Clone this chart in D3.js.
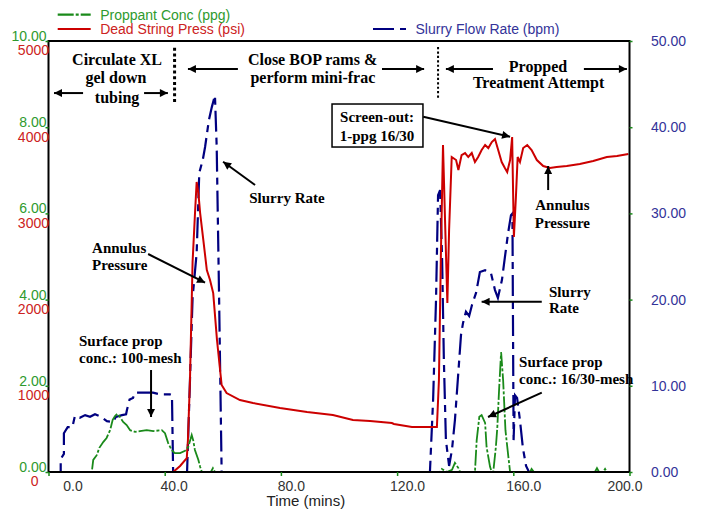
<!DOCTYPE html>
<html>
<head>
<meta charset="utf-8">
<script src="https://cdn.jsdelivr.net/npm/d3@7"></script>
<style>
  body { margin: 0; background: #fff; }
  svg { font-family: "Liberation Sans", Arial, sans-serif; }
  .note { font-family: "Liberation Serif", "Times New Roman", serif; font-weight: bold; fill: #000; }
</style>
</head>
<body>
<div id="chart"></div>
<script>
// tick values
var timeTicks = [0, 40, 80, 120, 160, 200];
var propTicks = [0, 2, 4, 6, 8, 10];
var pressTicks = [0, 1000, 2000, 3000, 4000, 5000];
var rateTicks = [0, 10, 20, 30, 40, 50];

// [time (mins), slurry flow rate (bpm)]
var slurryRate = [
  [0, 0], [4.2, 0], [4.2, 1.5], [5.3, 2.1], [5.3, 4.5], [6.6, 5.2], [8.2, 5.2], [9.1, 6.5],
  [10.8, 6.3], [12.6, 6.6], [14.3, 6.4], [16.0, 6.7], [18.1, 6.4], [20.1, 5.9], [22.2, 5.8],
  [23.2, 6.4], [25.3, 6.6], [26.7, 6.7], [27.0, 7.2], [27.9, 8.4], [29.1, 8.6], [29.8, 9.2],
  [33.6, 9.2], [36.0, 9.2], [38.4, 9.0], [41.8, 9.0], [42.5, 8.9], [42.9, 0], [47.7, 0],
  [49.6, 20.2], [51.0, 25.4], [51.9, 34.7], [53.1, 36.2], [53.9, 37.7], [55.2, 40.8],
  [56.2, 42.3], [57.3, 43.7], [57.9, 37.7], [58.7, 20.8], [59.6, 0], [131.3, 0],
  [132.4, 8.4], [133.4, 20.0], [134.1, 32.1], [134.8, 32.7], [135.5, 24.6], [136.1, 13.0],
  [136.8, 3.7], [137.9, 0.7], [138.9, 2.6], [139.9, 6.0], [140.9, 10.7], [142.0, 15.9],
  [142.7, 17.3], [143.7, 18.6], [144.8, 18.1], [145.8, 19.4], [147.2, 20.8], [148.5, 23.2],
  [150.3, 23.4], [152.3, 23.1], [153.7, 21.1], [154.7, 20.2], [156.1, 22.3], [157.1, 24.9],
  [158.2, 27.7], [159.2, 29.8], [159.7, 30.0], [160.1, 3.7], [160.6, 8.9], [161.3, 8.6],
  [162.3, 6.0], [163.3, 2.8], [164.4, 0.7], [165.4, 0], [200, 0]
];

// [time (mins), dead string pressure (psi)]
var deadPress = [
  [0, 0], [42.9, 0], [45.3, 70], [47.6, 162], [48.0, 371], [48.7, 1067], [49.6, 2436],
  [50.4, 2981], [51.0, 3364], [51.6, 3236], [52.2, 3004], [53.3, 2691], [54.5, 2343],
  [55.6, 2227], [56.7, 2076], [58.0, 1531], [59.6, 1009], [61.3, 916], [65.9, 835],
  [70.4, 800], [79.7, 742], [89.0, 696], [97.9, 661], [104.8, 603], [110.7, 592],
  [118.2, 568], [118.9, 557], [125.1, 522], [133.7, 522], [134.4, 1067], [135.1, 2575],
  [135.8, 3793], [136.5, 2923], [137.3, 1960], [137.9, 2807], [138.8, 3654], [139.3, 3642],
  [140.3, 3619], [141.1, 3503], [142.2, 3677], [143.4, 3700], [144.5, 3654], [145.7, 3700],
  [146.8, 3596], [147.9, 3654], [149.1, 3735], [150.3, 3793], [151.4, 3758], [152.6, 3828],
  [153.7, 3863], [154.8, 3735], [156.0, 3596], [157.1, 3526], [157.9, 3480], [158.9, 3619],
  [159.6, 3886], [160.2, 2726], [160.9, 3190], [161.5, 3654], [162.3, 3596], [163.4, 3758],
  [164.8, 3793], [166.3, 3735], [168.1, 3619], [170.3, 3550], [172.6, 3526], [174.9, 3538],
  [178.4, 3550], [182.9, 3573], [187.5, 3608], [192.2, 3654], [195.7, 3666], [199.6, 3689]
];

// [time (mins), proppant conc (ppg)]
var propConc = [
  [0, 0], [14.9, 0], [15.4, 0.28], [16.6, 0.39], [17.5, 0.56], [18.9, 0.70], [20.0, 0.79],
  [21.2, 0.97], [22.1, 1.21], [22.9, 1.30], [23.7, 1.35], [24.6, 1.28], [25.7, 1.16],
  [26.9, 1.09], [28.1, 0.97], [29.8, 0.93], [31.5, 0.95], [33.8, 0.97], [36.1, 0.95],
  [39.0, 0.97], [40.1, 0.90], [41.2, 0.67], [42.4, 0.51], [43.5, 0.44], [45.3, 0.44],
  [47.0, 0.49], [48.1, 0.58], [49.3, 0.86], [49.8, 0.74], [50.4, 0.51], [51.6, 0.28],
  [52.2, 0.12], [52.8, 0], [55.9, 0], [56.6, 0.09], [57.3, 0], [134.8, 0], [135.4, 0.07],
  [137.1, 0], [138.9, 0.05], [139.9, 0.21], [141.1, 0.09], [141.7, 0], [146.8, 0],
  [147.4, 0.74], [148.3, 1.28], [149.1, 1.32], [150.3, 1.14], [150.8, 0.58], [152.0, 0.12],
  [152.6, 0], [153.1, 0], [154.0, 0.58], [154.5, 1.04], [155.1, 1.90], [155.8, 2.78],
  [156.5, 2.13], [157.3, 0.97], [158.3, 0.35], [158.9, 0], [165.8, 0], [166.3, 0.07],
  [167.1, 0], [188.1, 0], [188.8, 0.09], [189.5, 0], [190.9, 0], [191.6, 0.07], [192.3, 0],
  [200, 0]
];

var svgWidth = 702;
var svgHeight = 510;

var margin = {
  top: 41,
  right: 72.5,
  bottom: 38,
  left: 48.5
};

var width = svgWidth - margin.left - margin.right;
var height = svgHeight - margin.top - margin.bottom;

var green = "#1a8a1a", red = "#cc0000", blue = "#000080";

var svg = d3.select("#chart")
  .append("svg")
  .attr("width", svgWidth)
  .attr("height", svgHeight);

svg.append("defs").append("marker")
  .attr("id", "head")
  .attr("viewBox", "0 0 10 10")
  .attr("refX", 10)
  .attr("refY", 5)
  .attr("markerWidth", 11)
  .attr("markerHeight", 8)
  .attr("markerUnits", "userSpaceOnUse")
  .attr("orient", "auto")
  .append("path")
  .attr("d", "M0,0L10,5L0,10z")
  .attr("fill", "#000");

var chartGroup = svg.append("g")
  .attr("transform", `translate(${margin.left}, ${margin.top})`);

// scales
var xScale = d3.scaleLinear().domain([0, 200]).range([0, width]);
var yPress = d3.scaleLinear().domain([0, 5000]).range([height, 0]);
var yProp = d3.scaleLinear().domain([0, 10]).range([height, 0]);
var yRate = d3.scaleLinear().domain([0, 50]).range([height, 0]);

// series lines
var rateLine = d3.line().x(d => xScale(d[0])).y(d => yRate(d[1]));
var pressLine = d3.line().x(d => xScale(d[0])).y(d => yPress(d[1]));
var propLine = d3.line().x(d => xScale(d[0])).y(d => yProp(d[1]));

chartGroup.append("path")
  .datum(slurryRate)
  .attr("d", rateLine)
  .attr("fill", "none")
  .attr("stroke", blue)
  .attr("stroke-width", 2.2)
  .attr("stroke-dasharray", "21,6,7,6");

chartGroup.append("path")
  .datum(deadPress)
  .attr("d", pressLine)
  .attr("fill", "none")
  .attr("stroke", red)
  .attr("stroke-width", 2);

chartGroup.append("path")
  .datum(propConc)
  .attr("d", propLine)
  .attr("fill", "none")
  .attr("stroke", green)
  .attr("stroke-width", 1.8)
  .attr("stroke-dasharray", "16,2,3,2");

// frame
chartGroup.append("rect")
  .attr("width", width)
  .attr("height", height)
  .attr("fill", "none")
  .attr("stroke", "#000")
  .attr("stroke-width", 2);

// bottom axis
var xAxis = chartGroup.append("g")
  .attr("transform", `translate(0, ${height})`)
  .call(d3.axisBottom(xScale).tickValues(timeTicks).tickSize(4).tickPadding(5).tickFormat(d3.format(".1f")));
xAxis.select(".domain").remove();
xAxis.selectAll("line").attr("stroke", green).attr("stroke-width", 1.5);
var xShift = [24, 9, 10, 10, 10, -5];
xAxis.selectAll("text")
  .attr("dx", (d, i) => xShift[i])
  .attr("fill", "#333")
  .attr("font-size", "14px");

chartGroup.append("text")
  .attr("x", xScale(88.6))
  .attr("y", height + 33.5)
  .attr("text-anchor", "middle")
  .attr("font-size", "15px")
  .attr("fill", "#222")
  .text("Time (mins)");

// left axis: proppant conc
var propAxis = chartGroup.append("g")
  .call(d3.axisLeft(yProp).tickValues(propTicks).tickSize(3).tickFormat(d3.format(".2f")));
propAxis.select(".domain").remove();
propAxis.selectAll("line").attr("stroke", green).attr("stroke-width", 1.5);
propAxis.selectAll("text")
  .attr("x", -2)
  .attr("y", -5)
  .attr("fill", "#2e9a2e")
  .attr("font-size", "14px");

// left axis: pressure
var pressAxis = chartGroup.append("g")
  .call(d3.axisLeft(yPress).tickValues(pressTicks).tickSize(0).tickFormat(d3.format("d")));
pressAxis.select(".domain").remove();
pressAxis.selectAll("text")
  .attr("x", d => d === 0 ? -10 : 0.5)
  .attr("y", 9.5)
  .attr("fill", "#cc2222")
  .attr("font-size", "14px");

// right axis: slurry rate
var rateAxis = chartGroup.append("g")
  .attr("transform", `translate(${width}, 0)`)
  .call(d3.axisRight(yRate).tickValues(rateTicks).tickSize(3).tickFormat(d3.format(".2f")));
rateAxis.select(".domain").remove();
rateAxis.selectAll("line").attr("stroke", green).attr("stroke-width", 1.5);
rateAxis.selectAll("text")
  .attr("x", 21.5)
  .attr("fill", "#333399")
  .attr("font-size", "14px");

// legend
var legend = [
  {label: "Proppant Conc (ppg)", color: green, text: "#2e9a2e", dash: "16,2,3,2", x: 57.7, y: 14.7},
  {label: "Dead String Press (psi)", color: red, text: "#cc2222", dash: null, x: 57.7, y: 29},
  {label: "Slurry Flow Rate (bpm)", color: blue, text: "#333399", dash: "21,6,7,6", x: 373, y: 29}
];
legend.forEach(function(l) {
  svg.append("line")
    .attr("x1", l.x).attr("x2", l.x + 33)
    .attr("y1", l.y).attr("y2", l.y)
    .attr("stroke", l.color)
    .attr("stroke-width", 2.2)
    .attr("stroke-dasharray", l.dash);
  svg.append("text")
    .attr("x", l.x + 42.5)
    .attr("y", l.y + 5.3)
    .attr("font-size", "14px")
    .attr("fill", l.text)
    .text(l.label);
});

// phase dividers
chartGroup.append("line")
  .attr("x1", xScale(43.4)).attr("x2", xScale(43.4))
  .attr("y1", yPress(4922)).attr("y2", yPress(4269))
  .attr("stroke", "#000").attr("stroke-width", 3).attr("stroke-dasharray", "3,2.7");
chartGroup.append("line")
  .attr("x1", xScale(134.1)).attr("x2", xScale(134.1))
  .attr("y1", yPress(4930)).attr("y2", yPress(4338))
  .attr("stroke", "#000").attr("stroke-width", 2).attr("stroke-dasharray", "2.2,2.2");

// screen-out box
chartGroup.append("rect")
  .attr("x", xScale(97.6))
  .attr("y", yPress(4269))
  .attr("width", xScale(128.9) - xScale(97.6))
  .attr("height", yPress(3770) - yPress(4269))
  .attr("fill", "#fff")
  .attr("stroke", "#000")
  .attr("stroke-width", 1.5);

// annotation text: [text, time, psi, anchor, size]
var notes = [
  ["Circulate XL", 23.6, 4727, "middle", 16],
  ["gel down", 23.2, 4507, "middle", 16],
  ["tubing", 23.6, 4280, "middle", 16],
  ["Close BOP rams &", 90.9, 4727, "middle", 16],
  ["perform mini-frac", 91.0, 4507, "middle", 16],
  ["Propped", 168.5, 4645, "middle", 16],
  ["Treatment Attempt", 168.7, 4449, "middle", 16],
  ["Screen-out:", 113.1, 4060, "middle", 15],
  ["1-ppg 16/30", 113.1, 3840, "middle", 15],
  ["Slurry Rate", 69.1, 3115, "start", 15],
  ["Annulus", 15.0, 2540, "start", 15],
  ["Pressure", 15.0, 2345, "start", 15],
  ["Annulus", 176.9, 3039, "middle", 15],
  ["Pressure", 176.9, 2834, "middle", 15],
  ["Slurry", 172.3, 2033, "start", 15],
  ["Rate", 172.3, 1848, "start", 15],
  ["Surface prop", 10.5, 1462, "start", 15],
  ["conc.: 100-mesh", 10.5, 1264, "start", 15],
  ["Surface prop", 162.0, 1218, "start", 15],
  ["conc.: 16/30-mesh", 162.0, 1021, "start", 15]
];
chartGroup.selectAll(".note")
  .data(notes)
  .enter()
  .append("text")
  .attr("class", "note")
  .attr("x", d => xScale(d[1]))
  .attr("y", d => yPress(d[2]))
  .attr("text-anchor", d => d[3])
  .attr("font-size", d => d[4] + "px")
  .text(d => d[0]);

// arrows: [t1, psi1, t2, psi2] (head at second point)
var arrows = [
  [11.9, 4396, 1.9, 4396],
  [32.9, 4396, 41.1, 4396],
  [65.2, 4675, 48.0, 4675],
  [114.8, 4675, 129.3, 4675],
  [153.0, 4675, 136.8, 4675],
  [184.3, 4675, 199.1, 4675],
  [129.0, 4122, 158.9, 3890],
  [71.1, 3329, 60.1, 3599],
  [34.3, 2529, 53.9, 2196],
  [172.0, 3271, 172.0, 3550],
  [169.8, 1975, 149.1, 1975],
  [35.3, 1183, 35.3, 638],
  [169.8, 920, 151.3, 638]
];
chartGroup.selectAll(".arrow")
  .data(arrows)
  .enter()
  .append("line")
  .attr("class", "arrow")
  .attr("x1", d => xScale(d[0]))
  .attr("y1", d => yPress(d[1]))
  .attr("x2", d => xScale(d[2]))
  .attr("y2", d => yPress(d[3]))
  .attr("stroke", "#000")
  .attr("stroke-width", 2)
  .attr("marker-end", "url(#head)");
</script>
</body>
</html>
